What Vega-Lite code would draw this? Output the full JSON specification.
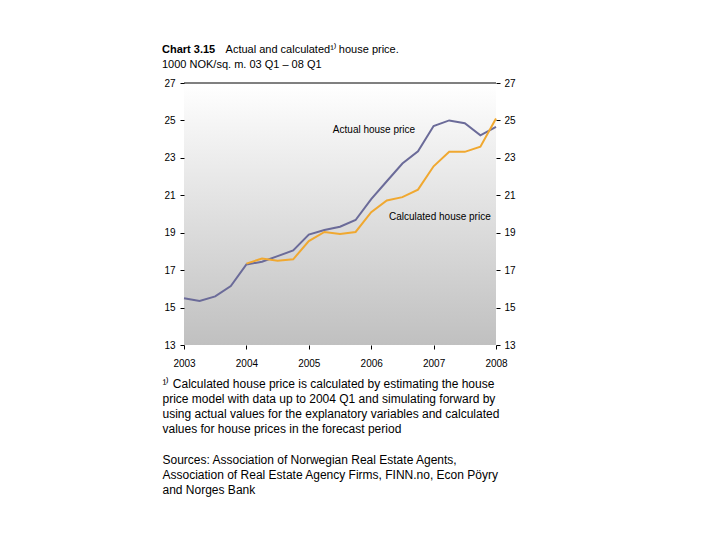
{
  "$schema": "https://vega.github.io/schema/vega-lite/v6.json",
  "width": 312,
  "height": 262,
  "autosize": {"type": "none"},
  "padding": {"left": 184, "top": 83, "right": 224, "bottom": 195},
  "background": "white",
  "config": {
    "font": "Liberation Sans",
    "view": {
      "stroke": null,
      "fill": {"gradient": "linear", "x1": 0, "y1": 0, "x2": 0, "y2": 1,
        "stops": [{"offset": 0, "color": "#ffffff"}, {"offset": 1, "color": "#c0c0c0"}]}
    },
    "axis": {
      "domain": false, "grid": false, "tickColor": "#000000", "tickSize": 4,
      "labelFont": "Liberation Sans", "labelFontSize": 10, "labelColor": "#000000"
    }
  },
  "title": {
    "text": "Chart 3.15",
    "subtitle": ["\u200b\u00a0\u00a0\u00a0\u00a0\u00a0\u00a0\u00a0\u00a0\u00a0\u00a0\u00a0\u00a0\u00a0\u00a0\u00a0\u00a0\u00a0\u00a0\u00a0\u00a0 Actual and calculated¹⁾ house price.", "1000 NOK/sq. m. 03 Q1 – 08 Q1"],
    "anchor": "start",
    "frame": "group",
    "dx": -22,
    "offset": 8,
    "font": "Liberation Sans",
    "fontSize": 11,
    "fontWeight": "bold",
    "color": "#000000",
    "subtitleFont": "Liberation Sans",
    "subtitleFontSize": 11,
    "subtitleColor": "#000000",
    "subtitleLineHeight": 15,
    "subtitlePadding": -11
  },
  "datasets": {
    "series": [
      {"t": 2003.00, "series": "Actual", "value": 15.5},
      {"t": 2003.25, "series": "Actual", "value": 15.35},
      {"t": 2003.50, "series": "Actual", "value": 15.6},
      {"t": 2003.75, "series": "Actual", "value": 16.15},
      {"t": 2004.00, "series": "Actual", "value": 17.3},
      {"t": 2004.25, "series": "Actual", "value": 17.45},
      {"t": 2004.50, "series": "Actual", "value": 17.75},
      {"t": 2004.75, "series": "Actual", "value": 18.05},
      {"t": 2005.00, "series": "Actual", "value": 18.9},
      {"t": 2005.25, "series": "Actual", "value": 19.14},
      {"t": 2005.50, "series": "Actual", "value": 19.32},
      {"t": 2005.75, "series": "Actual", "value": 19.68},
      {"t": 2006.00, "series": "Actual", "value": 20.8},
      {"t": 2006.25, "series": "Actual", "value": 21.75},
      {"t": 2006.50, "series": "Actual", "value": 22.7},
      {"t": 2006.75, "series": "Actual", "value": 23.35},
      {"t": 2007.00, "series": "Actual", "value": 24.7},
      {"t": 2007.25, "series": "Actual", "value": 25.0},
      {"t": 2007.50, "series": "Actual", "value": 24.85},
      {"t": 2007.75, "series": "Actual", "value": 24.2},
      {"t": 2008.00, "series": "Actual", "value": 24.65},
      {"t": 2004.00, "series": "Calculated", "value": 17.35},
      {"t": 2004.25, "series": "Calculated", "value": 17.62},
      {"t": 2004.50, "series": "Calculated", "value": 17.5},
      {"t": 2004.75, "series": "Calculated", "value": 17.58},
      {"t": 2005.00, "series": "Calculated", "value": 18.55},
      {"t": 2005.25, "series": "Calculated", "value": 19.04},
      {"t": 2005.50, "series": "Calculated", "value": 18.93},
      {"t": 2005.75, "series": "Calculated", "value": 19.04},
      {"t": 2006.00, "series": "Calculated", "value": 20.1},
      {"t": 2006.25, "series": "Calculated", "value": 20.72},
      {"t": 2006.50, "series": "Calculated", "value": 20.9},
      {"t": 2006.75, "series": "Calculated", "value": 21.3},
      {"t": 2007.00, "series": "Calculated", "value": 22.55},
      {"t": 2007.25, "series": "Calculated", "value": 23.32},
      {"t": 2007.50, "series": "Calculated", "value": 23.32},
      {"t": 2007.75, "series": "Calculated", "value": 23.6},
      {"t": 2008.00, "series": "Calculated", "value": 25.1}
    ],
    "top": [{"t": 2003, "t2": 2008, "value": 27}],
    "labels": [
      {"t": 2006.045, "value": 24.49, "label": "Actual house price"},
      {"t": 2007.10, "value": 19.84, "label": "Calculated house price"}
    ]
  },
  "encoding": {
    "x": {
      "field": "t", "type": "quantitative",
      "scale": {"domain": [2003, 2008], "nice": false, "zero": false},
      "axis": {
        "values": [2003, 2004, 2005, 2006, 2007, 2008],
        "format": "d",
        "labelPadding": 9,
        "labelFlush": false,
        "title": ["¹⁾ Calculated house price is calculated by estimating the house", "price model with data up to 2004 Q1 and simulating forward by", "using actual values for the explanatory variables and calculated", "values for house prices in the forecast period", "\u200b", "Sources: Association of Norwegian Real Estate Agents,", "Association of Real Estate Agency Firms, FINN.no, Econ Pöyry", "and Norges Bank"],
        "titleFont": "Liberation Sans",
        "titleFontSize": 12,
        "titleFontWeight": "normal",
        "titleColor": "#000000",
        "titleAlign": "left",
        "titleAnchor": "start",
        "titleBaseline": "alphabetic",
        "titleLineHeight": 15.2,
        "titleX": -22,
        "titleY": 42
      }
    }
  },
  "layer": [
    {
      "data": {"name": "series"},
      "mark": {"type": "line", "strokeWidth": 2},
      "encoding": {
        "y": {
          "field": "value", "type": "quantitative",
          "scale": {"domain": [13, 27], "nice": false, "zero": false},
          "axis": {"orient": "left", "values": [13, 15, 17, 19, 21, 23, 25, 27], "title": null, "labelPadding": 5}
        },
        "color": {
          "field": "series", "type": "nominal",
          "scale": {"domain": ["Actual", "Calculated"], "range": ["#6b6b99", "#f0a830"]},
          "legend": null
        }
      }
    },
    {
      "data": {"name": "top"},
      "mark": {"type": "rule", "color": "#000000", "strokeWidth": 1},
      "encoding": {
        "x2": {"field": "t2"},
        "y": {
          "field": "value", "type": "quantitative",
          "axis": {"orient": "right", "values": [13, 15, 17, 19, 21, 23, 25, 27], "title": null, "labelPadding": 4}
        }
      }
    },
    {
      "data": {"name": "labels"},
      "mark": {"type": "text", "fontSize": 10, "color": "#000000", "align": "center", "baseline": "middle", "font": "Liberation Sans"},
      "encoding": {
        "y": {"field": "value", "type": "quantitative", "axis": null},
        "text": {"field": "label"}
      }
    }
  ],
  "resolve": {"axis": {"y": "independent"}}
}
